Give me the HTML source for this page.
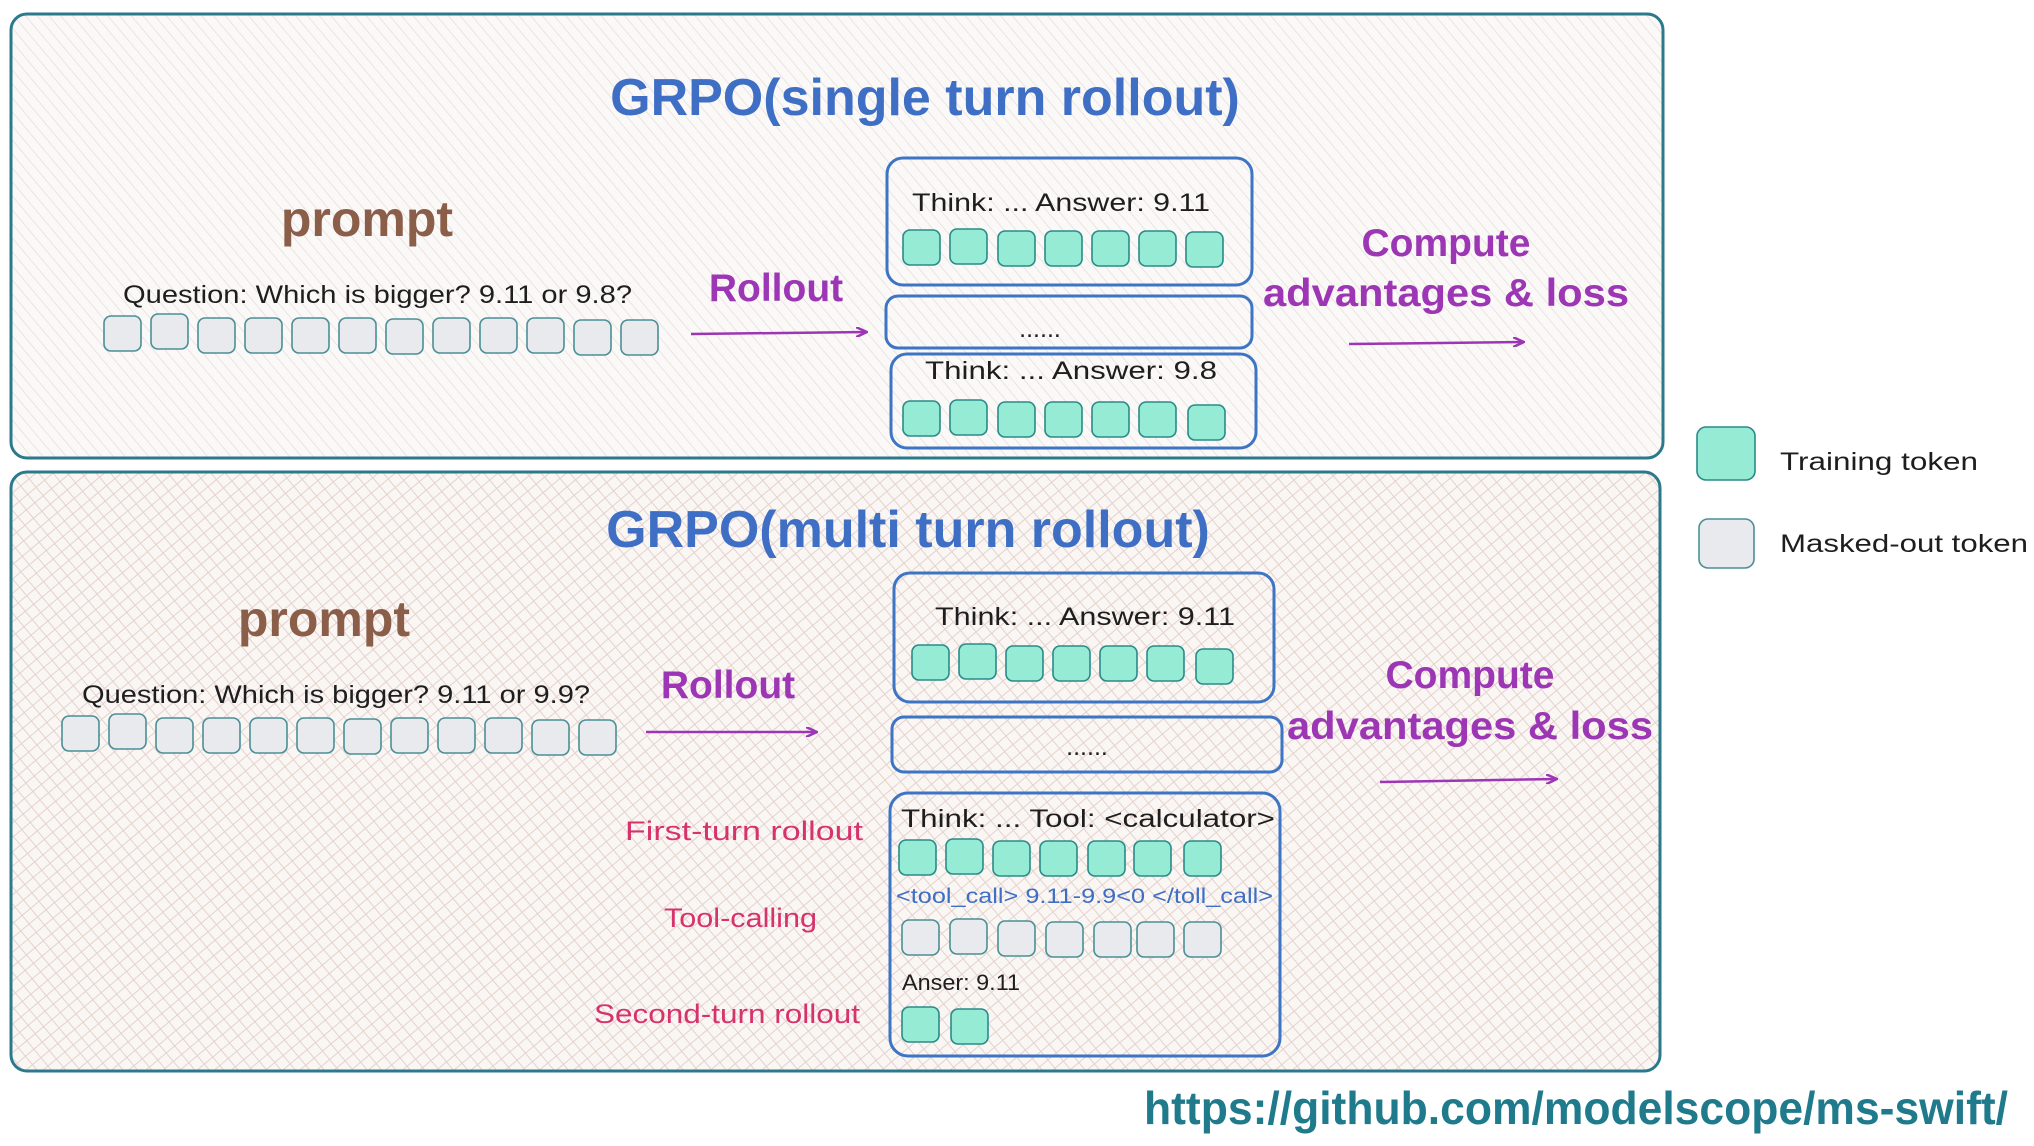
<!DOCTYPE html>
<html><head><meta charset="utf-8"><style>html,body{margin:0;padding:0;background:#fff}svg{display:block}</style></head><body>
<svg width="2034" height="1146" viewBox="0 0 2034 1146" xmlns="http://www.w3.org/2000/svg" font-family="Liberation Sans, sans-serif">
<defs>
<pattern id="h1" width="9" height="9" patternUnits="userSpaceOnUse" patternTransform="rotate(-40)"><rect width="9" height="9" fill="#fbf9f8"/><line x1="0" y1="0" x2="0" y2="9" stroke="#e6dcd8" stroke-width="1.5"/></pattern>
<pattern id="h2" width="11" height="11" patternUnits="userSpaceOnUse" patternTransform="rotate(-40)"><rect width="11" height="11" fill="#faf6f4"/><line x1="0" y1="0" x2="0" y2="11" stroke="#e4d2cc" stroke-width="2"/><line x1="0" y1="0" x2="11" y2="0" stroke="#e4d2cc" stroke-width="2"/></pattern>
<marker id="ar" markerWidth="12" markerHeight="10" refX="11" refY="5" orient="auto" markerUnits="userSpaceOnUse"><path d="M0,0 L11,5 L0,10" fill="none" stroke="#9c36b5" stroke-width="2.5"/></marker>
<g id="g"><rect width="37" height="35" rx="7" fill="#e8eaed" stroke="#4a8f96" stroke-width="1.6"/></g>
<g id="t"><rect width="37" height="35" rx="7" fill="#96ebd4" stroke="#2a8a8a" stroke-width="1.6"/></g>
</defs>
<rect x="11" y="14" width="1652" height="444" rx="16" fill="url(#h1)" stroke="#2b7a8c" stroke-width="3"/>
<rect x="11" y="472" width="1649" height="599" rx="16" fill="url(#h2)" stroke="#2b7a8c" stroke-width="3"/>

<g fill="#3e6fc4" font-size="52" font-weight="bold" text-anchor="middle">
<text x="925" y="115">GRPO(single turn rollout)</text>
<text x="908" y="547">GRPO(multi turn rollout)</text></g>
<g fill="#8b5e4a" font-size="50" font-weight="bold" text-anchor="middle">
<text x="367" y="236">prompt</text><text x="324" y="636">prompt</text></g>
<g fill="#1e1e1e" font-size="25">
<text x="123" y="303" textLength="509" lengthAdjust="spacingAndGlyphs">Question: Which is bigger? 9.11 or 9.8?</text>
<text x="82" y="703" textLength="508" lengthAdjust="spacingAndGlyphs">Question: Which is bigger? 9.11 or 9.9?</text>
<text x="912" y="211" textLength="298" lengthAdjust="spacingAndGlyphs">Think: ...  Answer: 9.11</text>
<text x="1040" y="337" text-anchor="middle">......</text>
<text x="925" y="379" textLength="292" lengthAdjust="spacingAndGlyphs">Think: ...  Answer: 9.8</text>
<text x="935" y="625" textLength="300" lengthAdjust="spacingAndGlyphs">Think: ...  Answer: 9.11</text>
<text x="1087" y="755" text-anchor="middle">......</text>
<text x="901" y="827" textLength="374" lengthAdjust="spacingAndGlyphs">Think: ...  Tool: &lt;calculator&gt;</text>
<text x="902" y="990" font-size="22" textLength="118" lengthAdjust="spacingAndGlyphs">Anser: 9.11</text>
</g>
<text x="896" y="903" fill="#3e6fc4" font-size="21" textLength="377" lengthAdjust="spacingAndGlyphs">&lt;tool_call&gt; 9.11-9.9&lt;0 &lt;/toll_call&gt;</text>

<g fill="#9c36b5" font-size="39" font-weight="bold" text-anchor="middle">
<text x="776" y="301">Rollout</text><text x="728" y="698">Rollout</text>
<text x="1446" y="256">Compute</text><text x="1446" y="306" textLength="366" lengthAdjust="spacingAndGlyphs">advantages &amp; loss</text>
<text x="1470" y="688">Compute</text><text x="1470" y="739" textLength="366" lengthAdjust="spacingAndGlyphs">advantages &amp; loss</text></g>
<g stroke="#9c36b5" stroke-width="2.5" fill="none" marker-end="url(#ar)">
<line x1="691" y1="334" x2="867" y2="332"/><line x1="646" y1="732" x2="817" y2="732"/>
<line x1="1349" y1="344" x2="1524" y2="342"/><line x1="1380" y1="782" x2="1557" y2="779"/></g>

<g fill="#d6336c" font-size="27">
<text x="625" y="840" textLength="238" lengthAdjust="spacingAndGlyphs">First-turn rollout</text>
<text x="664" y="927" textLength="153" lengthAdjust="spacingAndGlyphs">Tool-calling</text>
<text x="594" y="1023" textLength="266" lengthAdjust="spacingAndGlyphs">Second-turn rollout</text></g>

<g fill="none" stroke="#3e74c4" stroke-width="3">
<rect x="887" y="158" width="365" height="127" rx="16"/>
<rect x="886" y="296" width="366" height="52" rx="12"/>
<rect x="891" y="354" width="365" height="94" rx="16"/>
<rect x="894" y="573" width="380" height="129" rx="16"/>
<rect x="892" y="717" width="390" height="55" rx="12"/>
<rect x="890" y="793" width="390" height="263" rx="18"/></g>

<g>
<use href="#g" x="104" y="316"/><use href="#g" x="151" y="314"/><use href="#g" x="198" y="318"/><use href="#g" x="245" y="318"/><use href="#g" x="292" y="318"/><use href="#g" x="339" y="318"/><use href="#g" x="386" y="319"/><use href="#g" x="433" y="318"/><use href="#g" x="480" y="318"/><use href="#g" x="527" y="318"/><use href="#g" x="574" y="320"/><use href="#g" x="621" y="320"/>
<use href="#g" x="62" y="716"/><use href="#g" x="109" y="714"/><use href="#g" x="156" y="718"/><use href="#g" x="203" y="718"/><use href="#g" x="250" y="718"/><use href="#g" x="297" y="718"/><use href="#g" x="344" y="719"/><use href="#g" x="391" y="718"/><use href="#g" x="438" y="718"/><use href="#g" x="485" y="718"/><use href="#g" x="532" y="720"/><use href="#g" x="579" y="720"/>
<use href="#t" x="903" y="230"/><use href="#t" x="950" y="229"/><use href="#t" x="998" y="231"/><use href="#t" x="1045" y="231"/><use href="#t" x="1092" y="231"/><use href="#t" x="1139" y="231"/><use href="#t" x="1186" y="232"/>
<use href="#t" x="903" y="401"/><use href="#t" x="950" y="400"/><use href="#t" x="998" y="402"/><use href="#t" x="1045" y="402"/><use href="#t" x="1092" y="402"/><use href="#t" x="1139" y="402"/><use href="#t" x="1188" y="405"/>
<use href="#t" x="912" y="645"/><use href="#t" x="959" y="644"/><use href="#t" x="1006" y="646"/><use href="#t" x="1053" y="646"/><use href="#t" x="1100" y="646"/><use href="#t" x="1147" y="646"/><use href="#t" x="1196" y="649"/>
<use href="#t" x="899" y="840"/><use href="#t" x="946" y="839"/><use href="#t" x="993" y="841"/><use href="#t" x="1040" y="841"/><use href="#t" x="1088" y="841"/><use href="#t" x="1134" y="841"/><use href="#t" x="1184" y="841"/>
<use href="#g" x="902" y="920"/><use href="#g" x="950" y="919"/><use href="#g" x="998" y="921"/><use href="#g" x="1046" y="922"/><use href="#g" x="1094" y="922"/><use href="#g" x="1137" y="922"/><use href="#g" x="1184" y="922"/>
<use href="#t" x="902" y="1007"/><use href="#t" x="951" y="1009"/>
</g>
<rect x="1697" y="427" width="58" height="53" rx="9" fill="#96ebd4" stroke="#2a8a8a" stroke-width="1.6"/>
<rect x="1699" y="519" width="55" height="49" rx="9" fill="#e8eaed" stroke="#4a8f96" stroke-width="1.6"/>
<g fill="#1e1e1e" font-size="25"><text x="1780" y="470" textLength="198" lengthAdjust="spacingAndGlyphs">Training token</text>
<text x="1780" y="552" textLength="248" lengthAdjust="spacingAndGlyphs">Masked-out token</text></g>
<text x="1144" y="1124" fill="#1f7a8c" font-size="46" font-weight="bold" textLength="864" lengthAdjust="spacingAndGlyphs">https://github.com/modelscope/ms-swift/</text>
</svg>
</body></html>
